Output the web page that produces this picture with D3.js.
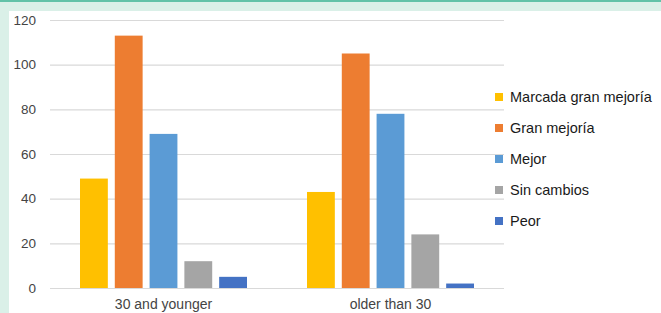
<!DOCTYPE html>
<html>
<head>
<meta charset="utf-8">
<script src="https://cdn.jsdelivr.net/npm/d3@7"></script>
<style>
  body { margin: 0; background: #ffffff; }
  svg { display: block; font-family: "Liberation Sans", Arial, sans-serif; }
</style>
</head>
<body>
<div id="chart"></div>
<script>
const categories = ["30 and younger", "older than 30"];
const seriesNames = ["Marcada gran mejoría", "Gran mejoría", "Mejor", "Sin cambios", "Peor"];
const seriesValues = [
  [49, 43],   // Marcada gran mejoría
  [113, 105], // Gran mejoría
  [69, 78],   // Mejor
  [12, 24],   // Sin cambios
  [5, 2]      // Peor
];
const yTicks = [0, 20, 40, 60, 80, 100, 120];
const colors = ["#FFC000", "#ED7D31", "#5B9BD5", "#A5A5A5", "#4472C4"];

const W = 661, H = 313;
const svg = d3.select("#chart").append("svg")
  .attr("width", W).attr("height", H);

// frame: green strip on top/left
svg.append("rect").attr("width", W).attr("height", H).attr("fill", "#daf0e8");
svg.append("rect").attr("width", W).attr("height", 2).attr("fill", "#62c2a8");
svg.append("rect").attr("x", 9).attr("y", 11).attr("width", W - 9).attr("height", H - 11).attr("fill", "#ffffff");

const plot = { left: 50, right: 504, top: 20, bottom: 288 };

const x0 = d3.scaleBand().domain(categories).range([plot.left, plot.right]).paddingInner(0).paddingOuter(0);
const x1 = d3.scaleBand().domain(seriesNames).range([30, x0.bandwidth() - 30]).paddingInner(0.2).paddingOuter(0);
const y = d3.scaleLinear().domain([0, 120]).range([plot.bottom, plot.top]);

// gridlines + y labels
const yAxis = svg.append("g")
  .attr("transform", `translate(${plot.left},0)`)
  .call(d3.axisLeft(y).tickValues(yTicks).tickSize(-(plot.right - plot.left)).tickPadding(14));
yAxis.select(".domain").remove();
yAxis.selectAll(".tick line").attr("stroke", "#d9d9d9").attr("stroke-width", 1.2);
yAxis.selectAll(".tick text").attr("fill", "#444").attr("font-size", 13.5);

// bars
const groups = svg.append("g").selectAll("g")
  .data(categories)
  .join("g")
  .attr("transform", d => `translate(${x0(d)},0)`);

groups.selectAll("rect")
  .data((c, ci) => seriesNames.map((s, si) => ({ s, si, v: seriesValues[si][ci] })))
  .join("rect")
  .attr("x", d => x1(d.s))
  .attr("y", d => y(d.v))
  .attr("width", x1.bandwidth())
  .attr("height", d => y(0) - y(d.v))
  .attr("fill", d => colors[d.si]);

// category labels
svg.append("g").selectAll("text")
  .data(categories)
  .join("text")
  .attr("x", d => x0(d) + x0.bandwidth() / 2)
  .attr("y", 309)
  .attr("text-anchor", "middle")
  .attr("fill", "#444")
  .attr("font-size", 14)
  .text(d => d);

// legend
const legend = svg.append("g").selectAll("g")
  .data(seriesNames)
  .join("g")
  .attr("transform", (d, i) => `translate(495,${97 + i * 31})`);
legend.append("rect")
  .attr("x", 0).attr("y", -4)
  .attr("width", 8).attr("height", 8)
  .attr("fill", (d, i) => colors[i]);
legend.append("text")
  .attr("x", 15).attr("y", 5)
  .attr("font-size", 14.5)
  .attr("fill", "#1a1a1a")
  .text(d => d);
</script>
</body>
</html>
